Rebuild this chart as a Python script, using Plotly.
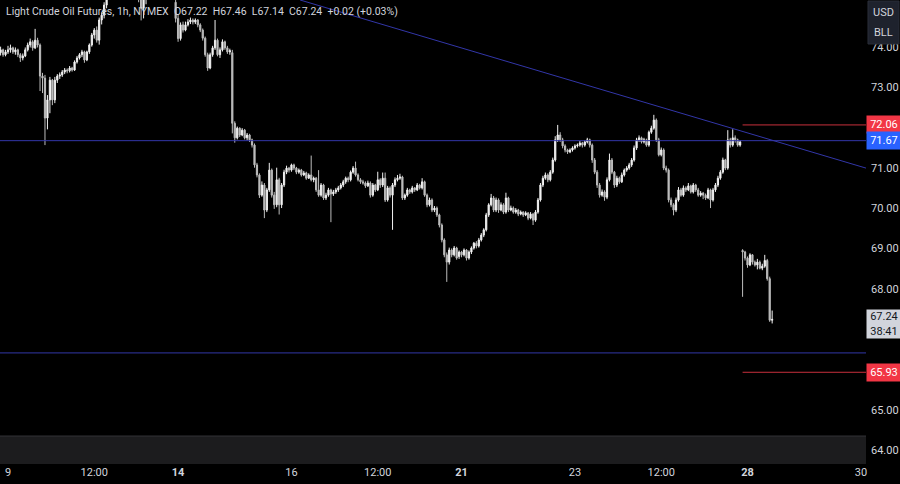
import plotly.graph_objects as go

# ---- hourly OHLC, Light Crude Oil Futures (bar index 0 = first visible bar) ----
opens = [
    73.85, 73.92, 73.80, 73.87, 73.92, 73.97, 73.87, 73.92, 73.80, 73.72,
    73.77, 73.92, 74.04, 74.12, 73.97, 74.16, 74.04, 73.27, 73.22, 72.23,
    72.68, 73.17, 72.68, 73.17, 73.27, 73.30, 73.37, 73.42, 73.40, 73.47,
    73.42, 73.62, 73.72, 73.80, 73.87, 73.67, 73.87, 74.04, 74.29, 74.41,
    74.16, 74.66, 74.78, 75.03, 75.40, 75.62, 75.78, 75.85, 75.90, 75.95,
    75.88, 75.70, 75.76, 75.68, 75.52, 75.40, 75.45, 75.25, 74.95, 75.20,
    75.42, 75.60, 75.75, 75.82, 75.70, 75.62, 75.50, 75.58, 75.48, 75.55,
    75.60, 75.10, 74.70, 74.20, 74.54, 74.41, 74.54, 74.61, 74.66, 74.61,
    74.66, 74.54, 74.41, 74.21, 73.80, 73.47, 73.80, 73.97, 74.16, 73.80,
    73.92, 74.12, 73.97, 73.87, 73.85, 72.10, 71.74, 71.98, 71.81, 71.93,
    71.74, 71.81, 71.69, 71.56, 71.07, 70.82, 70.32, 70.57, 69.95, 70.45,
    70.94, 70.32, 70.08, 70.70, 70.08, 70.57, 70.89, 70.99, 70.94, 71.07,
    70.99, 70.89, 70.94, 70.82, 70.87, 70.74, 70.82, 70.70, 70.74, 70.45,
    70.32, 70.57, 70.25, 70.32, 70.45, 70.35, 70.40, 70.45, 70.50, 70.57,
    70.65, 70.74, 70.70, 70.89, 70.99, 70.82, 70.70, 70.65, 70.62, 70.55,
    70.62, 70.32, 70.57, 70.45, 70.70, 70.57, 70.74, 70.20, 70.50, 70.32,
    70.57, 70.70, 70.74, 70.77, 70.25, 70.32, 70.45, 70.40, 70.50, 70.45,
    70.57, 70.50, 70.65, 70.32, 70.08, 70.20, 69.95, 70.00, 69.83, 69.58,
    69.21, 68.84, 68.66, 68.96, 68.84, 69.01, 68.80, 68.91, 68.84, 68.96,
    68.76, 68.91, 69.01, 69.13, 69.06, 69.21, 69.33, 69.46, 69.83, 70.08,
    70.25, 69.95, 70.20, 69.95, 70.08, 69.90, 70.25, 69.95, 70.00, 69.90,
    69.95, 69.85, 69.90, 69.83, 69.88, 69.75, 69.85, 69.70, 69.90, 70.20,
    70.57, 70.74, 70.82, 70.70, 70.89, 71.19, 71.69, 71.81, 71.69, 71.54,
    71.44, 71.39, 71.44, 71.49, 71.54, 71.56, 71.61, 71.56, 71.64, 71.69,
    71.56, 71.19, 70.89, 70.57, 70.32, 70.40, 70.27, 70.70, 71.19, 70.89,
    70.57, 70.74, 70.65, 70.82, 70.94, 70.99, 71.07, 71.19, 71.49, 71.69,
    71.74, 71.64, 71.69, 71.56, 71.88, 71.98, 72.18, 71.69, 71.32, 71.44,
    70.99, 70.94, 70.20, 70.08, 69.95, 70.20, 70.45, 70.32, 70.50, 70.45,
    70.55, 70.40, 70.57, 70.45, 70.32, 70.37, 70.32, 70.25, 70.45, 70.20,
    70.45, 70.57, 70.74, 70.89, 71.19, 70.99, 71.69, 71.56, 71.74, 71.69,
    71.56, 68.95, 68.91, 68.76, 68.59, 68.84, 68.66, 68.59, 68.66, 68.51,
    68.56, 68.70, 68.25, 67.22,
]
highs = [
    74.00, 73.95, 73.92, 74.02, 74.05, 74.00, 73.98, 73.95, 73.84, 73.83,
    73.98, 74.10, 74.20, 74.16, 74.44, 74.22, 74.08, 73.35, 73.30, 72.80,
    73.25, 73.20, 73.25, 73.32, 73.36, 73.42, 73.47, 73.46, 73.52, 73.50,
    73.66, 73.77, 73.84, 73.92, 73.90, 73.90, 74.08, 74.34, 74.46, 74.50,
    74.72, 74.85, 75.10, 75.50, 75.70, 75.85, 75.95, 76.00, 76.05, 76.10,
    75.98, 75.85, 75.90, 75.80, 75.65, 75.55, 75.60, 75.40, 75.30, 75.50,
    75.70, 75.85, 75.95, 76.00, 75.88, 75.80, 75.70, 75.75, 75.66, 75.70,
    75.68, 75.25, 74.80, 74.60, 74.62, 74.62, 74.68, 74.72, 74.70, 74.70,
    74.68, 74.58, 74.45, 74.25, 73.85, 73.85, 74.02, 74.66, 74.20, 73.98,
    74.18, 74.15, 74.02, 73.95, 73.92, 72.15, 72.02, 72.00, 71.98, 71.96,
    71.86, 71.84, 71.72, 71.60, 71.12, 70.86, 70.66, 70.62, 70.50, 71.12,
    70.98, 70.40, 71.00, 70.75, 70.62, 70.95, 71.05, 71.02, 71.10, 71.10,
    71.02, 70.98, 70.97, 70.92, 70.90, 70.86, 71.30, 70.78, 70.77, 70.94,
    70.62, 70.60, 70.38, 70.50, 70.48, 70.45, 70.50, 70.55, 70.62, 70.70,
    70.78, 70.78, 70.93, 71.04, 71.15, 70.86, 70.74, 70.70, 70.66, 70.68,
    70.66, 70.62, 70.60, 70.90, 70.74, 70.88, 70.88, 70.55, 70.54, 70.62,
    70.76, 70.82, 70.85, 70.80, 70.36, 70.50, 70.48, 70.55, 70.52, 70.62,
    70.60, 70.74, 70.68, 70.36, 70.26, 70.24, 70.05, 70.04, 69.86, 69.62,
    69.25, 68.90, 69.02, 69.00, 69.06, 69.04, 68.95, 68.94, 69.00, 68.98,
    68.95, 69.05, 69.16, 69.18, 69.26, 69.38, 69.50, 69.88, 70.12, 70.35,
    70.30, 70.26, 70.24, 70.14, 70.12, 70.38, 70.28, 70.06, 70.04, 70.00,
    69.98, 69.94, 69.92, 69.92, 69.90, 69.90, 69.88, 69.95, 70.25, 70.62,
    70.80, 70.88, 70.86, 70.94, 71.25, 71.78, 72.06, 71.88, 71.74, 71.58,
    71.47, 71.48, 71.53, 71.58, 71.60, 71.66, 71.64, 71.68, 71.74, 71.72,
    71.60, 71.24, 70.94, 70.62, 70.46, 70.44, 70.76, 71.35, 71.24, 70.92,
    70.80, 70.78, 70.88, 70.98, 71.04, 71.12, 71.24, 71.55, 71.74, 71.80,
    71.77, 71.74, 71.72, 71.92, 72.04, 72.31, 72.22, 71.74, 71.50, 71.48,
    71.05, 70.98, 70.26, 70.12, 70.26, 70.52, 70.50, 70.56, 70.54, 70.62,
    70.58, 70.62, 70.60, 70.50, 70.42, 70.40, 70.36, 70.50, 70.48, 70.50,
    70.62, 70.80, 70.94, 71.25, 71.22, 71.93, 71.74, 71.95, 71.80, 71.72,
    71.68, 68.98, 68.94, 68.80, 68.88, 68.86, 68.70, 68.74, 68.70, 68.62,
    68.84, 68.74, 68.30, 67.46,
]
lows = [
    73.78, 73.75, 73.76, 73.82, 73.85, 73.82, 73.80, 73.74, 73.62, 73.66,
    73.74, 73.88, 73.98, 73.90, 73.94, 73.98, 72.90, 72.85, 71.56, 71.95,
    72.35, 72.55, 72.60, 73.10, 73.20, 73.25, 73.32, 73.34, 73.36, 73.38,
    73.40, 73.58, 73.68, 73.74, 73.60, 73.64, 73.82, 74.00, 74.20, 74.10,
    74.05, 74.55, 74.70, 74.95, 75.30, 75.50, 75.65, 75.70, 75.80, 75.82,
    75.60, 75.55, 75.62, 75.45, 75.30, 75.20, 75.10, 74.65, 74.70, 75.05,
    75.30, 75.45, 75.60, 75.66, 75.50, 75.40, 75.35, 75.40, 75.30, 75.42,
    75.45, 74.60, 74.12, 74.15, 74.35, 74.38, 74.50, 74.56, 74.55, 74.56,
    74.48, 74.36, 74.15, 73.75, 73.40, 73.44, 73.75, 73.92, 73.76, 73.72,
    73.88, 73.92, 73.82, 73.80, 71.85, 71.62, 71.70, 71.76, 71.78, 71.70,
    71.68, 71.64, 71.50, 71.00, 70.76, 70.25, 70.28, 69.75, 69.90, 70.40,
    70.26, 69.98, 70.02, 69.84, 70.00, 70.52, 70.84, 70.88, 70.90, 70.94,
    70.84, 70.85, 70.78, 70.79, 70.70, 70.72, 70.66, 70.64, 70.40, 70.28,
    70.28, 70.20, 70.20, 70.28, 69.65, 70.30, 70.35, 70.40, 70.46, 70.52,
    70.60, 70.64, 70.66, 70.85, 70.78, 70.66, 70.60, 70.58, 70.50, 70.52,
    70.26, 70.28, 70.40, 70.42, 70.50, 70.52, 70.15, 70.16, 70.26, 69.46,
    70.52, 70.66, 70.70, 70.20, 70.20, 70.28, 70.35, 70.36, 70.40, 70.42,
    70.46, 70.46, 70.28, 70.02, 70.04, 69.90, 69.90, 69.78, 69.52, 69.15,
    68.78, 68.17, 68.60, 68.78, 68.80, 68.72, 68.74, 68.78, 68.80, 68.70,
    68.72, 68.86, 68.97, 69.00, 69.02, 69.17, 69.28, 69.42, 69.78, 70.04,
    69.90, 69.90, 69.88, 69.92, 69.85, 69.86, 69.90, 69.92, 69.86, 69.86,
    69.80, 69.82, 69.78, 69.80, 69.70, 69.72, 69.58, 69.66, 69.86, 70.16,
    70.52, 70.70, 70.64, 70.66, 70.85, 71.15, 71.64, 71.64, 71.48, 71.38,
    71.34, 71.36, 71.40, 71.45, 71.50, 71.52, 71.50, 71.52, 71.60, 71.50,
    71.12, 70.84, 70.50, 70.26, 70.28, 70.18, 70.22, 70.66, 70.84, 70.50,
    70.52, 70.60, 70.62, 70.78, 70.90, 70.95, 71.02, 71.15, 71.44, 71.64,
    71.60, 71.60, 71.52, 71.52, 71.84, 71.94, 71.64, 71.28, 71.28, 70.94,
    70.88, 70.14, 70.02, 69.82, 69.90, 70.16, 70.28, 70.28, 70.40, 70.42,
    70.36, 70.36, 70.40, 70.28, 70.28, 70.22, 70.20, 70.22, 70.00, 70.16,
    70.40, 70.52, 70.70, 70.85, 70.94, 70.95, 71.50, 71.52, 71.62, 71.52,
    71.52, 67.80, 68.70, 68.52, 68.56, 68.60, 68.55, 68.48, 68.48, 68.46,
    68.52, 68.20, 67.18, 67.14,
]
closes = [
    73.92, 73.80, 73.87, 73.92, 73.97, 73.87, 73.92, 73.80, 73.72, 73.77,
    73.92, 74.04, 74.12, 73.97, 74.16, 74.04, 73.27, 73.22, 72.23, 72.68,
    73.17, 72.68, 73.17, 73.27, 73.30, 73.37, 73.42, 73.40, 73.47, 73.42,
    73.62, 73.72, 73.80, 73.87, 73.67, 73.87, 74.04, 74.29, 74.41, 74.16,
    74.66, 74.78, 75.03, 75.40, 75.62, 75.78, 75.85, 75.90, 75.95, 75.88,
    75.70, 75.76, 75.68, 75.52, 75.40, 75.45, 75.25, 74.95, 75.20, 75.42,
    75.60, 75.75, 75.82, 75.70, 75.62, 75.50, 75.58, 75.48, 75.55, 75.60,
    75.56, 74.70, 74.20, 74.54, 74.41, 74.54, 74.61, 74.66, 74.61, 74.66,
    74.54, 74.41, 74.21, 73.80, 73.47, 73.80, 73.97, 74.16, 73.80, 73.92,
    74.12, 73.97, 73.87, 73.90, 72.10, 71.74, 71.98, 71.81, 71.93, 71.74,
    71.81, 71.69, 71.56, 71.07, 70.82, 70.32, 70.57, 69.95, 70.45, 70.94,
    70.32, 70.08, 70.70, 70.08, 70.57, 70.89, 70.99, 70.94, 71.07, 70.99,
    70.89, 70.94, 70.82, 70.87, 70.74, 70.82, 70.70, 70.74, 70.45, 70.32,
    70.57, 70.25, 70.32, 70.45, 70.35, 70.40, 70.45, 70.50, 70.57, 70.65,
    70.74, 70.70, 70.89, 70.99, 70.82, 70.70, 70.65, 70.62, 70.55, 70.62,
    70.32, 70.57, 70.45, 70.70, 70.57, 70.74, 70.20, 70.50, 70.32, 70.57,
    70.70, 70.74, 70.77, 70.25, 70.32, 70.45, 70.40, 70.50, 70.45, 70.57,
    70.50, 70.65, 70.32, 70.08, 70.20, 69.95, 70.00, 69.83, 69.58, 69.21,
    68.84, 68.66, 68.96, 68.84, 69.01, 68.76, 68.91, 68.84, 68.96, 68.76,
    68.91, 69.01, 69.13, 69.06, 69.21, 69.33, 69.46, 69.83, 70.08, 70.25,
    69.95, 70.20, 69.95, 70.08, 69.90, 70.25, 69.95, 70.00, 69.90, 69.95,
    69.85, 69.90, 69.83, 69.88, 69.75, 69.85, 69.70, 69.90, 70.20, 70.57,
    70.74, 70.82, 70.70, 70.89, 71.19, 71.69, 71.81, 71.69, 71.54, 71.44,
    71.39, 71.44, 71.49, 71.54, 71.56, 71.61, 71.56, 71.64, 71.69, 71.56,
    71.19, 70.89, 70.57, 70.32, 70.40, 70.27, 70.70, 71.19, 70.89, 70.57,
    70.74, 70.65, 70.82, 70.94, 70.99, 71.07, 71.19, 71.49, 71.69, 71.74,
    71.64, 71.69, 71.56, 71.88, 71.98, 72.18, 71.69, 71.32, 71.44, 70.99,
    70.94, 70.20, 70.08, 69.95, 70.20, 70.45, 70.32, 70.50, 70.45, 70.55,
    70.40, 70.57, 70.45, 70.32, 70.37, 70.32, 70.25, 70.45, 70.20, 70.45,
    70.57, 70.74, 70.89, 71.19, 70.99, 71.69, 71.56, 71.74, 71.69, 71.56,
    71.64, 68.91, 68.76, 68.59, 68.84, 68.66, 68.59, 68.66, 68.51, 68.56,
    68.70, 68.25, 67.22, 67.24,
]

# ---- time-axis labels (bar index of each labelled time) ----
tick_bars = [3, 38, 72, 118, 153, 187, 233, 268, 303, 349]
tick_labels = ["9", "12:00", "<b>14</b>", "16", "12:00", "<b>21</b>", "23", "12:00", "<b>28</b>", "30"]

# ---- price axis (labels hidden behind price tags are left out, as in the reference) ----
price_ticks = [64, 65, 68, 69, 70, 71, 73, 74]
price_range = [63.657, 75.156]
bar_range = [-0.245, 351.07]

# ---- drawings ----
blue_levels = [71.67, 66.41]
red_levels = [72.06, 65.93]
red_start_bar = 301
trend_bars = [121.5, 351.07]
trend_prices = [75.156, 70.99]

title_text = ("Light Crude Oil Futures, 1h, NYMEX&nbsp; O67.22&nbsp; H67.46&nbsp; "
              "L67.14&nbsp; C67.24&nbsp; +0.02 (+0.03%)")
last_price = 67.24
countdown = "38:41"
currency_lines = ["USD", "BLL"]

FONT = "Roboto"
TXT = "#d1d4dc"
BLUE_LINE = "#3236a8"
RED_LINE = "#c8303c"

bars = list(range(len(closes)))

fig = go.Figure()
fig.add_trace(go.Candlestick(
    x=bars, open=opens, high=highs, low=lows, close=closes,
    increasing=dict(line=dict(color="#f2f2f2", width=1), fillcolor="#f2f2f2"),
    decreasing=dict(line=dict(color="#bdbdbd", width=1), fillcolor="#bdbdbd"),
    whiskerwidth=0, hoverinfo="skip", showlegend=False,
))

shapes = []
# bottom grey band
shapes.append(dict(type="rect", xref="paper", yref="paper", x0=0, x1=1, y0=0, y1=0.0603,
                   fillcolor="#1c1c1e", line=dict(width=0), layer="below"))
shapes.append(dict(type="line", xref="paper", yref="paper", x0=0, x1=1, y0=0.0603, y1=0.0603,
                   line=dict(color="#333336", width=1), layer="below"))
for lv in blue_levels:
    shapes.append(dict(type="line", xref="paper", yref="y", x0=0, x1=1, y0=lv, y1=lv,
                       line=dict(color=BLUE_LINE, width=1)))
for lv in red_levels:
    shapes.append(dict(type="line", xref="x", yref="y", x0=red_start_bar, x1=bar_range[1], y0=lv, y1=lv,
                       line=dict(color=RED_LINE, width=1)))
shapes.append(dict(type="line", xref="x", yref="y", x0=trend_bars[0], x1=trend_bars[1],
                   y0=trend_prices[0], y1=trend_prices[1], line=dict(color=BLUE_LINE, width=1)))
# currency / unit box in the top-right corner (covers the top of the 74.00 label)
shapes.append(dict(type="rect", xref="paper", yref="paper", x0=1.0023, x1=1.0381, y0=0.9052, y1=0.9978,
                   fillcolor="#1e222d", line=dict(color="#2a2e39", width=1), layer="above"))

annotations = []
annotations.append(dict(text=title_text, x=0, y=1, xref="paper", yref="paper", xanchor="left", yanchor="top",
                        xshift=4, yshift=-3, showarrow=False, font=dict(family=FONT, size=10.5, color=TXT)))


def price_box(price, text, bg, fg, h=15, shift=0):
    return dict(text=text, x=1, y=price, xref="paper", yref="y", xanchor="left", yanchor="middle",
                showarrow=False, bgcolor=bg, width=32, height=h, borderpad=1, yshift=shift,
                font=dict(family=FONT, size=11, color=fg), align="center")


annotations.append(price_box(red_levels[0], f"{red_levels[0]:.2f}", "#f23645", "#ffffff"))
annotations.append(price_box(blue_levels[0], f"{blue_levels[0]:.2f}", "#2962ff", "#ffffff"))
annotations.append(price_box(red_levels[1], f"{red_levels[1]:.2f}", "#f23645", "#ffffff"))
annotations.append(price_box(last_price, f"{last_price:.2f}<br>{countdown}", "#d1d4dc", "#131722", h=26, shift=-5))
for k, word in enumerate(currency_lines):
    annotations.append(dict(text=word, x=1.0202, y=[0.9741, 0.9289][k], xref="paper", yref="paper",
                            xanchor="center", yanchor="middle", showarrow=False,
                            font=dict(family=FONT, size=11, color=TXT)))

fig.update_layout(
    width=900, height=484,
    margin=dict(l=0, r=34, t=0, b=20, autoexpand=False),
    paper_bgcolor="#000000", plot_bgcolor="#000000",
    showlegend=False, shapes=shapes, annotations=annotations,
    xaxis=dict(range=bar_range, tickvals=tick_bars, ticktext=tick_labels, showgrid=False, zeroline=False,
               showline=False, ticks="", rangeslider=dict(visible=False), automargin=False,
               tickfont=dict(family=FONT, size=11, color=TXT)),
    yaxis=dict(range=price_range, side="right", tickvals=price_ticks,
               ticktext=[f"{p:.2f}" for p in price_ticks], showgrid=False, zeroline=False,
               showline=False, ticks="", ticklabelstandoff=4, automargin=False,
               tickfont=dict(family=FONT, size=11, color=TXT)),
)

fig.write_html("out.html", config={"displayModeBar": False},
               post_script="document.body.style.margin='0px';document.body.style.background='#000';")
